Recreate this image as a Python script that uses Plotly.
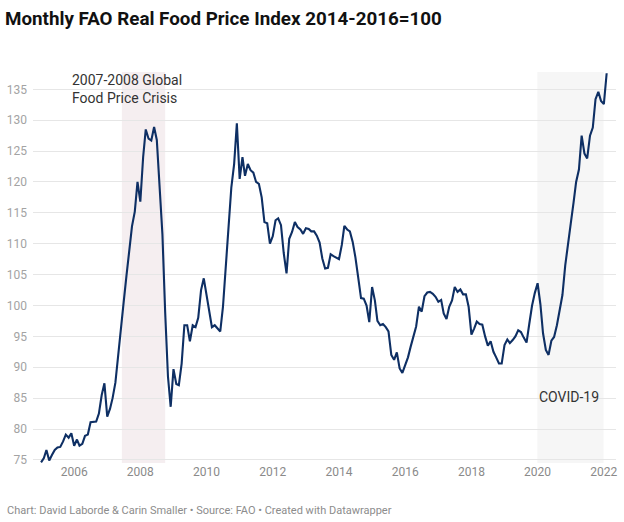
import pandas as pd
import plotly.graph_objects as go

# Monthly FAO Real Food Price Index (2014-2016=100), Jan 2005 - Feb 2022
values = [
    74.6, 75.3, 76.6, 74.9, 75.8, 76.6, 77.0, 77.1, 78.0, 79.1, 78.6, 79.3,   # 2005
    77.3, 78.3, 77.3, 77.6, 78.9, 79.1, 81.1, 81.1, 81.2, 82.5, 85.5, 87.4,   # 2006
    82.0, 83.3, 85.0, 87.5, 91.5, 95.5, 100.5, 104.8, 109.5, 112.8, 115.2, 120.0,  # 2007
    116.8, 124.0, 128.5, 127.0, 126.7, 128.9, 126.8, 120.0, 111.5, 99.0, 88.5, 83.6,  # 2008
    89.7, 87.3, 87.1, 90.6, 96.8, 96.8, 94.2, 96.8, 96.5, 98.0, 102.5, 104.4,  # 2009
    101.7, 98.8, 96.5, 96.8, 96.3, 95.8, 99.8, 106.2, 112.7, 119.1, 122.9, 129.5,  # 2010
    120.5, 124.0, 121.0, 122.9, 121.9, 121.5, 120.0, 119.7, 117.5, 113.5, 113.3, 110.0,  # 2011
    111.2, 113.8, 114.1, 113.0, 108.5, 105.2, 110.8, 111.9, 113.5, 112.7, 112.3, 111.6,  # 2012
    112.5, 112.4, 112.0, 112.0, 111.3, 110.2, 107.6, 106.0, 106.1, 108.3, 108.0, 107.7,  # 2013
    107.5, 109.8, 112.9, 112.3, 112.0, 110.3, 107.8, 104.5, 101.2, 101.1, 100.0, 97.3,  # 2014
    103.0, 100.8, 97.5, 96.8, 97.0, 96.5, 95.8, 92.0, 91.2, 92.4, 89.8, 89.1,  # 2015
    90.3, 91.6, 93.3, 95.0, 96.6, 99.8, 99.0, 101.5, 102.1, 102.2, 101.9, 101.4,  # 2016
    100.6, 100.9, 98.7, 97.8, 99.8, 100.8, 103.0, 102.2, 102.6, 101.8, 101.8, 99.8,  # 2017
    95.3, 96.3, 97.4, 97.0, 96.9, 95.0, 93.5, 94.2, 92.5, 91.6, 90.6, 90.6,  # 2018
    93.6, 94.5, 93.9, 94.4, 95.0, 96.0, 95.7, 94.8, 94.0, 97.0, 100.0, 102.0,  # 2019
    103.6, 100.2, 95.5, 92.8, 92.0, 94.3, 94.9, 96.8, 99.0, 101.7, 106.5, 110.2,  # 2020
    113.3, 116.7, 120.0, 122.0, 127.5, 124.6, 123.8, 127.5, 128.8, 133.4, 134.6, 133.1,  # 2021
    132.6, 137.6,  # 2022
]
months = pd.date_range("2005-01-01", periods=len(values), freq="MS")

tick_years = [2006, 2008, 2010, 2012, 2014, 2016, 2018, 2020, 2022]
y_ticks = [75, 80, 85, 90, 95, 100, 105, 110, 115, 120, 125, 130, 135]

periods = [
    ("2007-06-12", "2008-10-01", "rgba(236,224,228,0.55)"),
    ("2019-12-29", "2021-12-29", "rgba(240,240,240,0.6)"),
]

fig = go.Figure()
fig.add_trace(go.Scatter(
    x=months, y=values, mode="lines",
    line=dict(color="#0e2f64", width=2.1),
    hoverinfo="x+y",
))

for x0, x1, col in periods:
    fig.add_vrect(x0=x0, x1=x1, fillcolor=col, line_width=0, layer="below")

fig.add_annotation(
    x="2005-11-15", y=135.0, xref="x", yref="y",
    text="2007-2008 Global<br>Food Price Crisis", showarrow=False,
    xanchor="left", yanchor="middle", align="left",
    font=dict(family="Roboto", size=14, color="#333333"),
)
fig.add_annotation(
    x="2019-12-29", y=85.2, xref="x", yref="y",
    text="COVID-19", showarrow=False,
    xanchor="left", yanchor="middle", align="left",
    font=dict(family="Roboto", size=14, color="#333333"),
)
fig.add_annotation(
    x=-0.048, y=-0.121, xref="paper", yref="paper",
    text="Chart: David Laborde & Carin Smaller • Source: FAO • Created with Datawrapper",
    showarrow=False, xanchor="left", yanchor="middle",
    font=dict(family="Roboto", size=11, color="#8c8c8c"),
)

fig.update_layout(
    width=624, height=522,
    paper_bgcolor="white", plot_bgcolor="white",
    margin=dict(l=33, r=8, t=72, b=59),
    showlegend=False,
    title=dict(
        text="<b>Monthly FAO Real Food Price Index 2014-2016=100</b>",
        x=0.008, xanchor="left", y=0.9655, yanchor="middle",
        font=dict(family="Roboto", size=18.8, color="#111111"),
    ),
    font=dict(family="Roboto"),
)

fig.update_xaxes(
    type="date",
    range=["2004-10-04", "2022-05-15"],
    tickvals=[f"{y}-01-01" for y in tick_years],
    ticktext=[str(y) for y in tick_years],
    showgrid=False, zeroline=False, showline=False, ticks="",
    automargin=False,
    tickfont=dict(family="Roboto", size=12, color="#8a8a8a"),
)
fig.update_yaxes(
    range=[74.5, 137.8],
    tickvals=y_ticks,
    showgrid=True, gridcolor="#e6e6e6", gridwidth=1,
    zeroline=False, showline=False, ticks="",
    automargin=False,
    ticklabelstandoff=5,
    tickfont=dict(family="Roboto", size=12, color="#a3a3a3"),
)

fig.write_html("out.html", config={"displayModeBar": False},
               post_script="document.body.style.margin='0';")
